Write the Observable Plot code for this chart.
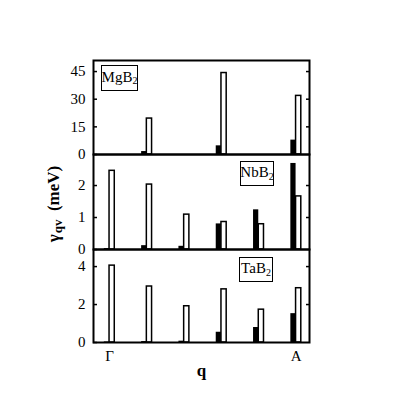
<!DOCTYPE html>
<html><head><meta charset="utf-8">
<script src="https://cdn.jsdelivr.net/npm/d3@7"></script>
<script src="https://cdn.jsdelivr.net/npm/@observablehq/plot@0.6"></script>
<style>
body{margin:0;background:#fff;}
#wrap{position:relative;width:403px;height:403px;font-family:"Liberation Serif","Times New Roman",serif;overflow:hidden;}
#wrap svg{position:absolute;left:0;}
.box{position:absolute;border:1.5px solid #000;font-size:15px;line-height:1;background:#fff;display:flex;align-items:center;justify-content:center;box-sizing:border-box;padding-bottom:2px;}
.box sub{font-size:10px;position:relative;top:4px;vertical-align:baseline;}
#ylab{position:absolute;left:54px;top:204px;transform:translate(-50%,-50%) rotate(-90deg);white-space:nowrap;font-weight:bold;font-size:17px;}
#ylab sub{font-size:13px;position:relative;top:3px;vertical-align:baseline;margin-left:1px;}
svg [aria-label="x-axis label"] text{font-weight:bold;font-size:17px;}
</style></head><body><div id="wrap"></div>
<script>
// q points along Γ–A, with tick labels
const qPos = [0, 1, 2, 3, 4, 5];
const qTickLabels = ["Γ", "", "", "", "", "A"];
// MgB2 (meV)
const mgBlack = [null, 1.6, null, 4.7, null, 7.8];
const mgWhite = [null, 19.5, null, 44.2, null, 31.8];
// NbB2 (meV)
const nbBlack = [0.03, 0.12, 0.10, 0.80, 1.24, 2.69];
const nbWhite = [2.46, 2.03, 1.09, 0.86, 0.79, 1.66];
// TaB2 (meV)
const taBlack = [0.03, 0.05, 0.07, 0.54, 0.79, 1.52];
const taWhite = [4.05, 2.95, 1.91, 2.80, 1.73, 2.86];
// y tick values
const mgTicks = [0, 15, 30, 45];
const nbTicks = [0, 1, 2];
const taTicks = [0, 2, 4];

const barW = 0.14;
const xDomain = [-0.43, 5.36];
const wrap = document.getElementById("wrap");
const SERIF = "'Liberation Serif', 'Times New Roman', serif";

function panel({black, white, yDomain, yTicks, height, mt, mb, top, bottomAxis}) {
  const rows = qPos.map((q, i) => ({q, b: black[i], w: white[i]}));
  const marks = [
    Plot.rectY(rows.filter(d => d.b != null), {x1: d => d.q - barW, x2: d => d.q, y1: 0, y2: "b", fill: "black"}),
    Plot.rectY(rows.filter(d => d.w != null), {x1: "q", x2: d => d.q + barW, y1: 0, y2: "w", fill: "white", stroke: "black", strokeWidth: 1.5}),
    Plot.axisY({anchor: "left", ticks: yTicks, tickSize: -4, tickPadding: 12, strokeWidth: 1.5, tickFormat: d => String(d), label: null, fontSize: 15, fontFamily: SERIF}),
    Plot.axisY({anchor: "right", ticks: yTicks.filter(t => t !== 0), tickSize: -4, strokeWidth: 1.5, tickFormat: () => "", label: null}),
    Plot.frame({strokeWidth: 2})
  ];
  if (bottomAxis) {
    const tv = qPos.filter((q, i) => qTickLabels[i] !== "");
    marks.push(Plot.axisX({ticks: tv, tickFormat: q => qTickLabels[qPos.indexOf(q)], tickSize: 0, tickPadding: 8, fontSize: 15, fontFamily: SERIF,
      label: "q", labelAnchor: "center", labelArrow: "none", labelOffset: 33}));
  }
  const svg = Plot.plot({
    width: 403, height, marginLeft: 93, marginRight: 94, marginTop: mt, marginBottom: mb,
    x: {domain: xDomain, axis: bottomAxis ? undefined : null},
    y: {domain: yDomain},
    style: {background: "transparent", overflow: "visible", fontFamily: SERIF, fontSize: "15px", color: "black"},
    marks
  });
  svg.style.top = top + "px";
  return svg;
}

wrap.append(panel({black: mgBlack, white: mgWhite, yDomain: [0, 51], yTicks: mgTicks, height: 154, mt: 60, mb: 0, top: 0}));
wrap.append(panel({black: nbBlack, white: nbWhite, yDomain: [0, 2.97], yTicks: nbTicks, height: 95, mt: 0, mb: 0, top: 154}));
wrap.append(panel({black: taBlack, white: taWhite, yDomain: [0, 4.9], yTicks: taTicks, height: 154, mt: 0, mb: 61, top: 249, bottomAxis: true}));

function box(html, left, top, w, h) {
  const d = document.createElement("div");
  d.className = "box";
  d.innerHTML = html;
  Object.assign(d.style, {left: left + "px", top: top + "px", width: w + "px", height: h + "px"});
  wrap.append(d);
}
box("MgB<sub>2</sub>", 101, 65, 37, 26);
box("NbB<sub>2</sub>", 240, 161, 34, 25);
box("TaB<sub>2</sub>", 239, 257, 34, 25);

const yl = document.createElement("div");
yl.id = "ylab";
yl.innerHTML = "γ<sub>qv</sub>&nbsp; (meV)";
wrap.append(yl);
</script></body></html>
